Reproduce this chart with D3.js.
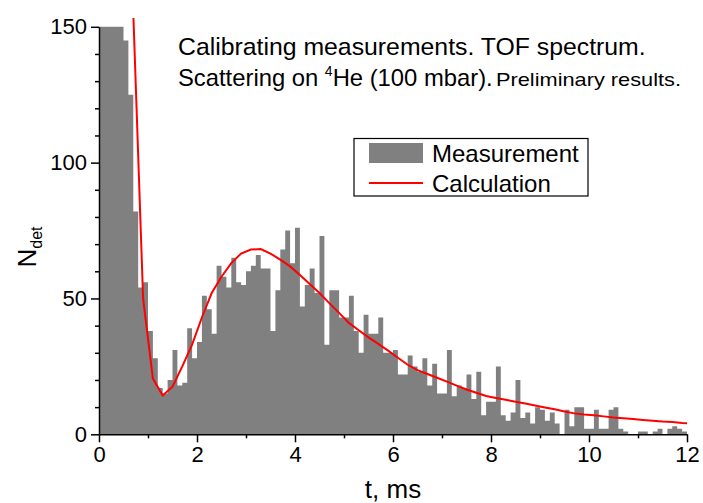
<!DOCTYPE html>
<html lang="en">
<head>
<meta charset="UTF-8">
<title>TOF spectrum</title>
<style>
    body { margin: 0; background: #fff; }
    svg { display: block; font-family: Arial, 'Liberation Sans', sans-serif; }
    .axis path, .axis line { stroke: #000; stroke-width: 1.5px; }
    .axis text { font-size: 22px; fill: #000; }
</style>
</head>
<body>
<div id="chart"></div>
<script src="https://d3js.org/d3.v7.min.js"></script>
<script>
    // histogram counts, bins of 0.1 ms starting at t = 0
    const binWidth = 0.1;
    const counts = [
        200, 210, 195, 180, 160, 145, 125, 82, 54, 56,
        38, 28, 17, 15, 20, 31, 18, 19, 39, 28,
        34, 51, 46, 37, 62, 58, 54, 65, 56, 55,
        60, 62, 66, 61, 61, 38, 53, 68, 75, 63,
        76, 47, 55, 61, 52, 73, 33, 53, 53, 43,
        43, 51, 38, 30, 44, 37, 37, 43, 30, 30,
        31, 22, 22, 29, 25, 23, 28, 18, 26, 15,
        15, 31, 14, 18, 17, 22, 13, 23, 7, 12,
        12, 25, 7, 5, 8, 20, 6, 8, 4, 10,
        9, 5, 8, 4, 0, 9, 3, 10, 10, 2,
        2, 9, 2, 2, 9, 10, 2, 1, 0, 0,
        1, 1, 0, 1, 2, 0, 2, 3, 2, 1
    ];

    // calculated curve
    const calcT = [0.5, 0.7, 0.9, 1.1, 1.3, 1.5, 1.7, 1.9, 2.1, 2.3, 2.5, 2.7, 2.9, 3.1, 3.3, 3.5, 3.7, 3.9,
        4.1, 4.3, 4.5, 4.7, 4.9, 5.1, 5.3, 5.5, 5.7, 5.9, 6.1, 6.3, 6.5, 6.7, 6.9, 7.1, 7.3, 7.5, 7.7, 7.9,
        8.1, 8.3, 8.5, 8.7, 8.9, 9.1, 9.3, 9.5, 9.7, 9.9, 10.1, 10.3, 10.5, 10.7, 10.9, 11.1, 11.3, 11.5,
        11.7, 11.9, 12.1];
    const calcN = [350, 155, 50, 20.5, 14.3, 17.5, 25, 33, 43, 52, 58, 63, 66.5, 68, 68.2, 66.5, 64.3, 61.8,
        58.6, 55.3, 52, 48.3, 44.7, 41, 38.3, 35.7, 33.3, 30.8, 28.2, 25.6, 23.6, 22.2, 20.8, 19.4, 17.9, 16.5, 15.3, 14.1,
        13.4, 12.7, 12, 11.3, 10.6, 9.9, 9.2, 8.4, 7.7, 7.3, 7.0, 6.6, 6.2, 5.9, 5.6, 5.3, 5.0, 4.7,
        4.5, 4.2, 4.0];

    const xTicks = [0, 2, 4, 6, 8, 10, 12];
    const xMinor = [1, 3, 5, 7, 9, 11];
    const yTicks = [0, 50, 100, 150];
    const yMinor = [10, 20, 30, 40, 60, 70, 80, 90, 110, 120, 130, 140];

    const width = 703, height = 503;
    const plotLeft = 99, plotRight = 687, plotTop = 26.8, plotBottom = 434.3;

    const x = d3.scaleLinear().domain([0, 12]).range([plotLeft, plotRight]);
    const y = d3.scaleLinear().domain([0, 150]).range([plotBottom, plotTop]);

    const svg = d3.select("#chart").append("svg")
        .attr("width", width)
        .attr("height", height);

    svg.append("clipPath").attr("id", "plotClip")
        .append("rect")
        .attr("x", plotLeft).attr("y", plotTop)
        .attr("width", plotRight - plotLeft).attr("height", plotBottom - plotTop);
    svg.append("clipPath").attr("id", "lineClip")
        .append("rect")
        .attr("x", plotLeft).attr("y", 18)
        .attr("width", plotRight - plotLeft).attr("height", plotBottom - 18);

    // histogram as one stepped area so neighbouring bins do not leave seams
    const bins = counts.map((n, i) => ({ t: i * binWidth, n: n }));
    bins.push({ t: counts.length * binWidth, n: counts[counts.length - 1] });

    const area = d3.area()
        .x(d => x(d.t))
        .y0(y(0))
        .y1(d => y(d.n))
        .curve(d3.curveStepAfter);

    svg.append("path")
        .datum(bins)
        .attr("clip-path", "url(#plotClip)")
        .attr("fill", "#808080")
        .attr("d", area);

    const line = d3.line()
        .x((d, i) => x(calcT[i]))
        .y(d => y(d));

    svg.append("path")
        .datum(calcN)
        .attr("clip-path", "url(#lineClip)")
        .attr("fill", "none")
        .attr("stroke", "#ff0000")
        .attr("stroke-width", 2)
        .attr("d", line);

    // axes
    const xAxis = svg.append("g")
        .attr("class", "axis")
        .attr("transform", `translate(0,${plotBottom})`)
        .call(d3.axisBottom(x).tickValues(xTicks).tickSize(8).tickSizeOuter(0).tickPadding(4));
    xAxis.selectAll(".tick text").attr("dy", "0.71em");

    svg.append("g")
        .attr("class", "axis")
        .attr("transform", `translate(0,${plotBottom})`)
        .call(d3.axisBottom(x).tickValues(xMinor).tickSize(4).tickFormat(""))
        .select(".domain").remove();

    svg.append("g")
        .attr("class", "axis")
        .attr("transform", `translate(${plotLeft},0)`)
        .call(d3.axisLeft(y).tickValues(yTicks).tickSize(8).tickSizeOuter(0).tickPadding(4));

    svg.append("g")
        .attr("class", "axis")
        .attr("transform", `translate(${plotLeft},0)`)
        .call(d3.axisLeft(y).tickValues(yMinor).tickSize(4).tickFormat(""))
        .select(".domain").remove();

    // axis titles
    svg.append("text")
        .attr("x", (plotLeft + plotRight) / 2)
        .attr("y", 498)
        .attr("text-anchor", "middle")
        .attr("font-size", 26)
        .text("t, ms");

    const yTitle = svg.append("text")
        .attr("transform", "translate(36,247) rotate(-90)")
        .attr("text-anchor", "middle")
        .attr("font-size", 26);
    yTitle.append("tspan").text("N");
    yTitle.append("tspan").attr("font-size", 16).attr("dy", 6).text("det");

    // annotation
    svg.append("text")
        .attr("x", 178).attr("y", 55)
        .attr("font-size", 24.8)
        .text("Calibrating measurements. TOF spectrum.");

    const l2 = svg.append("text")
        .attr("x", 178).attr("y", 86)
        .attr("font-size", 23.8);
    l2.append("tspan").text("Scattering on ");
    l2.append("tspan").attr("font-size", 14).attr("dy", -10).text("4");
    l2.append("tspan").attr("dy", 10).text("He (100 mbar).");

    svg.append("text")
        .attr("x", 496).attr("y", 86)
        .attr("font-size", 18.5)
        .attr("textLength", 185)
        .attr("lengthAdjust", "spacingAndGlyphs")
        .text("Preliminary results.");

    // legend
    const lg = svg.append("g");
    lg.append("rect")
        .attr("x", 354).attr("y", 138.5)
        .attr("width", 234).attr("height", 57.5)
        .attr("fill", "#fff").attr("stroke", "#000").attr("stroke-width", 1.2);
    lg.append("rect")
        .attr("x", 369).attr("y", 143)
        .attr("width", 54).attr("height", 20)
        .attr("fill", "#808080");
    lg.append("text")
        .attr("x", 432).attr("y", 162)
        .attr("font-size", 24)
        .text("Measurement");
    lg.append("line")
        .attr("x1", 369).attr("x2", 423)
        .attr("y1", 183).attr("y2", 183)
        .attr("stroke", "#ff0000").attr("stroke-width", 2);
    lg.append("text")
        .attr("x", 432).attr("y", 191.5)
        .attr("font-size", 24)
        .text("Calculation");
</script>
</body>
</html>
